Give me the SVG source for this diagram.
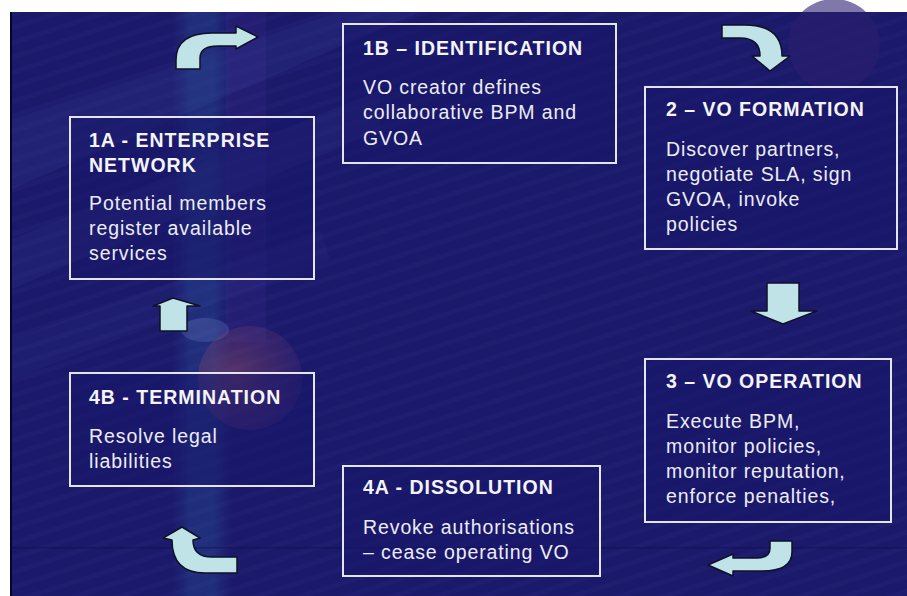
<svg xmlns="http://www.w3.org/2000/svg" width="907" height="596" viewBox="0 0 907 596">
<defs>
<style>
.box{fill:#17166a;fill-opacity:0.5;stroke:#e4e4f2;stroke-width:2}
.t{font-family:"Liberation Sans",Arial,sans-serif;font-weight:bold;font-size:19.5px;fill:#f4f4f8;letter-spacing:1px}
.b{font-family:"Liberation Sans",Arial,sans-serif;font-size:19.5px;fill:#ececf4;letter-spacing:0.9px}
.arr{fill:#bfe3e6;stroke:#101028;stroke-width:1.5;stroke-linejoin:round}
</style>
<pattern id="hatch" width="40" height="14" patternUnits="userSpaceOnUse" patternTransform="rotate(-18)">
<rect width="40" height="14" fill="none"/>
<rect y="0" width="40" height="5" fill="#6a6acc" fill-opacity="0.05"/>
</pattern>
<radialGradient id="red" cx="0.35" cy="0.5" r="0.65">
<stop offset="0" stop-color="#a85860" stop-opacity="0.45"/>
<stop offset="1" stop-color="#6a3a78" stop-opacity="0.2"/>
</radialGradient>
<linearGradient id="vband" x1="0" y1="0" x2="1" y2="0">
<stop offset="0" stop-color="#2a4a9a" stop-opacity="0"/>
<stop offset="0.3" stop-color="#2a5ea0" stop-opacity="0.3"/>
<stop offset="0.7" stop-color="#2a5ea0" stop-opacity="0.3"/>
<stop offset="1" stop-color="#2a4a9a" stop-opacity="0"/>
</linearGradient>
</defs>

<g id="background">
<rect x="10" y="12" width="897" height="584" fill="#1b196a"/>
<rect x="10" y="12" width="897" height="584" fill="url(#hatch)"/>
<polygon points="10,120 340,12 420,12 10,190" fill="#4a5ab0" fill-opacity="0.14"/>
<polygon points="10,240 380,90 380,130 10,290" fill="#4a5ab0" fill-opacity="0.11"/>
<polygon points="10,340 320,230 330,260 10,380" fill="#4a5ab0" fill-opacity="0.08"/>
<rect x="172" y="12" width="60" height="584" fill="url(#vband)"/>
<rect x="226" y="12" width="40" height="330" fill="#4a3a9a" fill-opacity="0.18"/>
<ellipse cx="205" cy="330" rx="24" ry="12" fill="#8fa0e8" fill-opacity="0.2"/>
<circle cx="250" cy="378" r="52" fill="url(#red)"/>
<circle cx="834" cy="45" r="46" fill="#2c1e70" fill-opacity="0.6"/>
<rect x="10" y="12" width="2" height="584" fill="#05052a"/>
<rect x="10" y="547" width="897" height="1.5" fill="#0a0a40" fill-opacity="0.35"/>
</g>

<g id="connectors">
<path class="arr" d="M176,69 L200,69 L200,58 Q200,46 218,46 L236,46 L236,49 L258,37 L236,26 L236,33 L212,33 Q176,33 176,60 Z"/>
<path class="arr" d="M722,25 L745,25 Q782,25 782,56 L790,56 L770,71 L752,56 L760,56 Q760,38 740,38 L722,38 Z"/>
<path class="arr" d="M767,283 L799,283 L799,311 L817,311 L783,324 L751,311 L767,311 Z"/>
<path class="arr" d="M770,541 L792,541 L792,552 Q792,571 762,571 L733,571 L733,576 L708,565 L733,554 L733,558 L757,558 Q770,558 770,548 Z"/>
<path class="arr" d="M237,557 L237,573 L205,573 Q172,573 172,540 L163,538 L182,527 L200,538 L193,540 Q193,557 212,557 Z"/>
<path class="arr" d="M160,331 L187,331 L187,306 L200,306 L173,298 L153,306 L160,306 Z"/>
</g>

<g id="node-1A">
<rect class="box" x="70" y="117" width="244" height="162"/>
<text class="t" x="89" y="147">1A - ENTERPRISE</text>
<text class="t" x="89" y="172">NETWORK</text>
<text class="b" x="89" y="210">Potential members</text>
<text class="b" x="89" y="235">register available</text>
<text class="b" x="89" y="260">services</text>
</g>

<g id="node-1B">
<rect class="box" x="343" y="24" width="273" height="139"/>
<text class="t" x="363" y="55">1B – IDENTIFICATION</text>
<text class="b" x="363" y="94">VO creator defines</text>
<text class="b" x="363" y="119">collaborative BPM and</text>
<text class="b" x="363" y="145">GVOA</text>
</g>

<g id="node-2">
<rect class="box" x="645" y="87" width="252" height="162"/>
<text class="t" x="666" y="116">2 – VO FORMATION</text>
<text class="b" x="666" y="156">Discover partners,</text>
<text class="b" x="666" y="181">negotiate SLA, sign</text>
<text class="b" x="666" y="206">GVOA, invoke</text>
<text class="b" x="666" y="231">policies</text>
</g>

<g id="node-3">
<rect class="box" x="645" y="359" width="246" height="163"/>
<text class="t" x="666" y="388">3 – VO OPERATION</text>
<text class="b" x="666" y="428">Execute BPM,</text>
<text class="b" x="666" y="453">monitor policies,</text>
<text class="b" x="666" y="478">monitor reputation,</text>
<text class="b" x="666" y="503">enforce penalties,</text>
</g>

<g id="node-4A">
<rect class="box" x="343" y="466" width="257" height="110"/>
<text class="t" x="363" y="494">4A - DISSOLUTION</text>
<text class="b" x="363" y="534">Revoke authorisations</text>
<text class="b" x="363" y="559">– cease operating VO</text>
</g>

<g id="node-4B">
<rect class="box" x="70" y="373" width="244" height="113"/>
<text class="t" x="89" y="404">4B - TERMINATION</text>
<text class="b" x="89" y="443">Resolve legal</text>
<text class="b" x="89" y="468">liabilities</text>
</g>
</svg>
